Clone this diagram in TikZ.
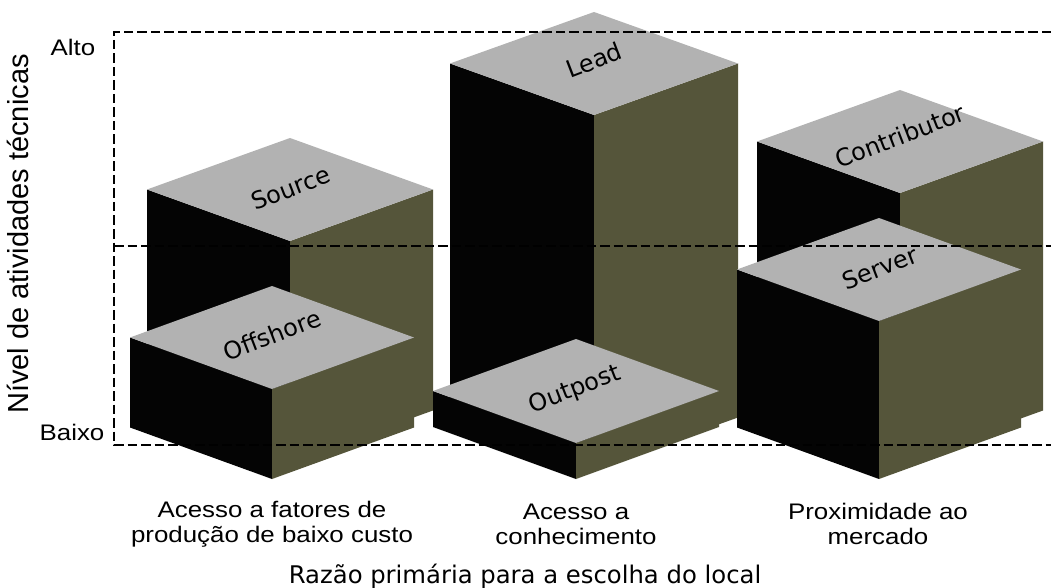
\documentclass[tikz,border=0pt]{standalone}
\usepackage{fontspec}
\setmainfont{Liberation Sans}
\newfontfamily\widefont{DejaVu Sans}
\newfontfamily\stretchfont[FakeStretch=1.15]{Liberation Sans}
\definecolor{topc}{RGB}{178,178,178}
\definecolor{leftc}{RGB}{4,4,4}
\definecolor{rightc}{RGB}{85,85,58}
% \isobox{front x}{front y}{half width}{half depth}{height}
\newcommand{\isobox}[5]{%
  \fill[leftc] ({#1-#3},{#2-#4}) -- (#1,#2) -- (#1,{#2+#5}) -- ({#1-#3},{#2-#4+#5}) -- cycle;
  \fill[rightc] (#1,#2) -- ({#1+#3},{#2-#4}) -- ({#1+#3},{#2-#4+#5}) -- (#1,{#2+#5}) -- cycle;
  \fill[topc] ({#1-#3},{#2-#4}) -- (#1,{#2-2*#4}) -- ({#1+#3},{#2-#4}) -- (#1,#2) -- cycle;
}
\begin{document}
\begin{tikzpicture}[x=1pt,y=-1pt,
  boxlabel/.style={font=\widefont\fontsize{24}{26}\selectfont, rotate=21, inner sep=0pt},
  catlabel/.style={font=\stretchfont\fontsize{22.5}{25}\selectfont, align=center, inner sep=0pt},
  levellabel/.style={font=\stretchfont\fontsize{22.5}{25}\selectfont, inner sep=0pt},
  guide/.style={line width=2.2pt, dash pattern=on 9.5pt off 4pt}]
\useasboundingbox (0,0) rectangle (1051,588);
% back boxes
\isobox{290}{241}{143}{51.5}{221}
\node[boxlabel] (source) at (291,188) {Source};
\isobox{594}{115}{144}{51.5}{354}
\node[boxlabel] (lead) at (594,60) {Lead};
\isobox{900}{193}{143}{51.5}{269}
\node[boxlabel] (contributor) at (900,136) {Contributor};
% front boxes
\isobox{272}{389}{142}{51.5}{90}
\node[boxlabel] (offshore) at (272,335) {Offshore};
\isobox{576}{443}{143}{52}{36}
\node[boxlabel] (outpost) at (575,390) {Outpost};
\isobox{879}{321}{142}{51.5}{158}
\node[boxlabel] (server) at (880,268) {Server};
% guide lines
\coordinate (tl) at (114,32);
\coordinate (tr) at (1051,32);
\coordinate (ml) at (114,246);
\coordinate (mr) at (1051,246);
\coordinate (bl) at (114,445);
\coordinate (br) at (1051,445);
\draw[guide] (tr) -- (tl) -- (bl) -- (br);
\draw[guide] (ml) -- (mr);
% axis texts
\node[levellabel] (alto) at (73,47) {Alto};
\node[levellabel] (baixo) at (72,432) {Baixo};
\node[font=\fontsize{29}{31}\selectfont, rotate=90, inner sep=0pt] (ytitle) at (18,234) {Nível de atividades técnicas};
\node[catlabel] (cat1) at (272,524) {Acesso a fatores de\\produção de baixo custo};
\node[catlabel] (cat2) at (576,524) {Acesso a\\conhecimento};
\node[catlabel] (cat3) at (878,524) {Proximidade ao\\mercado};
\node[font=\widefont\fontsize{24.3}{27}\selectfont, inner sep=0pt] (xtitle) at (525,576) {Razão primária para a escolha do local};
\end{tikzpicture}
\end{document}
